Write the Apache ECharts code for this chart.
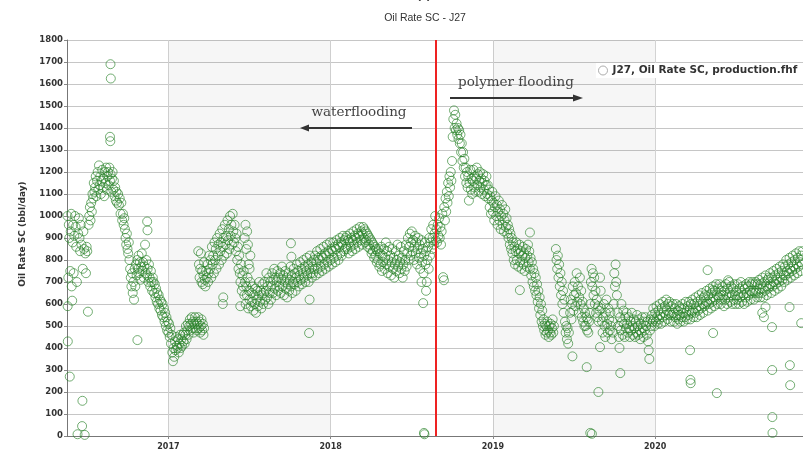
<!DOCTYPE html>
<html>
<head>
<meta charset="utf-8">
<script src="https://cdn.jsdelivr.net/npm/echarts@6/dist/echarts.min.js"></script>
<style>html,body{margin:0;padding:0;background:#fff}#c{width:803px;height:455px}</style>
</head>
<body>
<div id="c"></div>
<script>
// ---- data: [decimal year, oil rate bbl/day] ----
const seriesName = 'J27, Oil Rate SC, production.fhf';
const yearTicks = [2017, 2018, 2019, 2020];
const shadedYears = [[2017, 2018], [2019, 2020]];
const floodSwitchYear = 2018.652;

const pts2016 = [
[2016.378,1000],[2016.379,590],[2016.380,430],[2016.383,720],[2016.386,960],[2016.389,900],[2016.392,270],[2016.395,750],[2016.398,930],[2016.401,1010],[2016.404,680],[2016.407,615],[2016.410,880],[2016.413,960],[2016.416,740],[2016.420,910],[2016.424,1000],[2016.428,950],[2016.432,860],[2016.436,700],[2016.440,8],[2016.444,920],[2016.448,990],[2016.452,900],[2016.456,840],[2016.460,960],[2016.464,870],[2016.468,45],[2016.470,160],[2016.472,760],[2016.476,930],[2016.480,850],[2016.484,5],[2016.488,830],[2016.492,740],[2016.496,860],[2016.500,840],[2016.504,565],[2016.508,960],[2016.512,1000],[2016.516,1040],[2016.520,980],[2016.524,1060],[2016.528,1020],[2016.532,1100],[2016.536,1080],[2016.540,1150],[2016.544,1110],
[2016.548,1130],[2016.552,1180],[2016.556,1090],[2016.560,1160],[2016.564,1200],[2016.568,1120],[2016.572,1230],[2016.576,1140],[2016.580,1180],[2016.584,1100],[2016.588,1160],[2016.592,1210],[2016.596,1130],[2016.600,1170],[2016.604,1090],[2016.608,1200],[2016.612,1150],[2016.616,1220],[2016.620,1120],[2016.624,1180],[2016.628,1200],[2016.632,1140],[2016.636,1220],[2016.640,1160],[2016.644,1190],[2016.648,1110],[2016.652,1170],[2016.656,1200],[2016.660,1120],[2016.664,1160],[2016.668,1090],[2016.672,1130],[2016.676,1070],[2016.680,1110],[2016.684,1060],
[2016.643,1690],[2016.645,1625],[2016.640,1360],[2016.642,1340],
[2016.690,1100],[2016.695,1050],[2016.700,1080],[2016.705,1010],[2016.710,1060],[2016.715,980],
[2016.720,1010],[2016.724,960],[2016.728,990],[2016.732,940],[2016.736,900],[2016.740,870],[2016.744,920],[2016.748,850],[2016.752,830],[2016.756,880],[2016.760,800],[2016.764,760],[2016.768,720],[2016.772,680],[2016.776,740],[2016.780,650],[2016.784,700],[2016.788,620],[2016.792,760],[2016.796,680],[2016.809,436],[2016.869,975],[2016.871,935],
[2016.800,780],[2016.804,730],[2016.808,800],[2016.812,760],[2016.816,820],[2016.820,740],[2016.824,790],[2016.828,710],[2016.832,770],[2016.836,830],[2016.840,750],[2016.844,790],[2016.848,720],[2016.852,770],[2016.856,870],[2016.860,740],[2016.864,800],[2016.868,730],[2016.872,760],[2016.876,700],[2016.880,780],[2016.884,720],[2016.888,680],[2016.892,750],[2016.896,700],[2016.900,660],[2016.904,720],
[2016.908,700],[2016.912,650],[2016.916,690],[2016.920,630],[2016.924,670],[2016.928,610],[2016.932,650],[2016.936,600],[2016.940,640],[2016.944,580],[2016.948,620],[2016.952,570],[2016.956,610],[2016.960,550],[2016.964,600],[2016.968,540],[2016.972,580],[2016.976,520],[2016.980,560],[2016.984,500],[2016.988,540],[2016.992,480],[2016.996,520]
];

const pts2017 = [
[2017.000,470],[2017.004,510],[2017.008,450],[2017.012,490],[2017.016,420],[2017.020,460],[2017.024,380],[2017.028,340],[2017.032,400],[2017.036,360],[2017.040,430],[2017.044,390],[2017.048,450],[2017.052,410],
[2017.056,400],[2017.060,440],[2017.064,380],[2017.068,420],[2017.072,460],[2017.076,400],[2017.080,440],[2017.084,410],[2017.088,460],[2017.092,430],[2017.096,470],[2017.100,420],[2017.104,460],[2017.108,500],[2017.112,440],[2017.116,480],[2017.120,510],[2017.124,460],[2017.128,500],[2017.132,530],[2017.136,480],[2017.140,510],[2017.144,540],[2017.148,490],[2017.152,520],[2017.156,470],[2017.160,510],[2017.164,540],[2017.168,490],[2017.172,520],[2017.176,480],[2017.180,510],[2017.184,540],[2017.188,490],[2017.192,520],[2017.196,470],[2017.200,500],[2017.204,530],[2017.208,480],[2017.212,510],[2017.216,460],[2017.220,490],
[2017.184,840],[2017.188,780],[2017.192,720],[2017.196,760],[2017.200,830],[2017.204,700],[2017.208,750],[2017.212,690],[2017.216,730],[2017.220,790],[2017.224,710],[2017.228,680],[2017.232,750],[2017.236,720],[2017.240,780],[2017.244,700],[2017.248,740],[2017.252,820],[2017.256,760],[2017.260,800],[2017.264,720],[2017.268,860],[2017.272,780],[2017.276,820],[2017.280,740],[2017.284,880],[2017.288,800],[2017.292,850],[2017.296,760],[2017.300,900],[2017.304,820],[2017.308,870],[2017.312,780],[2017.316,920],[2017.320,840],[2017.324,880],[2017.328,800],[2017.332,940],[2017.336,860],[2017.340,900],[2017.344,820],[2017.348,960],[2017.352,870],[2017.356,910],[2017.360,830],[2017.364,980],[2017.368,890],[2017.372,940],[2017.376,850],[2017.380,1000],[2017.384,910],[2017.388,960],[2017.392,870],[2017.396,1010],[2017.400,930],[2017.404,880],[2017.408,960],[2017.412,900],[2017.416,840],[2017.420,920],[2017.424,800],[2017.428,860],[2017.432,760],[2017.436,820],[2017.440,740],
[2017.335,600],[2017.338,630],[2017.443,590],
[2017.470,900],[2017.475,960],[2017.480,850],[2017.485,930],[2017.490,870],[2017.495,780],[2017.500,760],[2017.505,820],
[2017.444,700],[2017.448,780],[2017.452,660],[2017.456,730],[2017.460,680],[2017.464,750],[2017.468,640],[2017.472,700],[2017.476,600],[2017.480,680],[2017.484,640],[2017.488,720],[2017.492,580],[2017.496,660],[2017.500,620],[2017.504,700],[2017.508,590],[2017.512,650],[2017.516,610],[2017.520,680],[2017.524,570],[2017.528,640],[2017.532,600],[2017.536,670],[2017.540,560],[2017.544,620],[2017.548,660],[2017.552,590],[2017.556,640],[2017.560,700],[2017.564,610],[2017.568,660],[2017.572,580],[2017.576,640],[2017.580,690],[2017.584,600],[2017.588,650],[2017.592,700],[2017.596,620],[2017.600,660],[2017.604,740],[2017.608,630],[2017.612,680],[2017.616,600],[2017.620,720],[2017.624,650],[2017.628,700],[2017.632,620],
[2017.636,680],[2017.640,740],[2017.644,650],[2017.648,710],[2017.652,760],[2017.656,670],[2017.660,720],[2017.664,640],[2017.668,700],[2017.672,750],[2017.676,660],[2017.680,720],[2017.684,680],[2017.688,740],[2017.692,650],[2017.696,710],[2017.700,770],[2017.704,680],[2017.708,730],[2017.712,640],[2017.716,700],[2017.720,750],[2017.724,670],[2017.728,720],[2017.732,630],[2017.736,690],[2017.740,740],[2017.744,660],[2017.748,710],[2017.752,770],[2017.756,680],[2017.760,730],[2017.764,650],[2017.768,700],[2017.772,760],[2017.776,690],[2017.780,740],[2017.784,660],[2017.788,720],[2017.792,780],[2017.796,700],[2017.800,750],[2017.804,680],[2017.808,730],[2017.812,790],[2017.816,710],[2017.820,760],[2017.824,690],[2017.828,740],[2017.832,800],[2017.836,720],[2017.840,770],[2017.844,700],[2017.848,750],[2017.852,810],[2017.856,730],[2017.860,780],[2017.864,700],[2017.868,760],[2017.872,820],[2017.876,740],[2017.880,790],[2017.884,720],[2017.888,770],
[2017.755,876],[2017.758,815],[2017.867,468],[2017.870,620],
[2017.892,740],[2017.896,800],[2017.900,760],[2017.904,820],[2017.908,730],[2017.912,790],[2017.916,840],[2017.920,760],[2017.924,810],[2017.928,740],[2017.932,800],[2017.936,850],[2017.940,770],[2017.944,820],[2017.948,750],[2017.952,810],[2017.956,860],[2017.960,780],[2017.964,830],[2017.968,760],[2017.972,820],[2017.976,870],[2017.980,790],[2017.984,840],[2017.988,770],[2017.992,830],[2017.996,880]
];

const pts2018 = [
[2018.000,800],[2018.004,850],[2018.008,780],[2018.012,840],[2018.016,880],[2018.020,810],[2018.024,860],[2018.028,790],[2018.032,850],[2018.036,890],[2018.040,820],[2018.044,870],[2018.048,800],[2018.052,860],[2018.056,900],[2018.060,830],[2018.064,880],[2018.068,820],[2018.072,870],[2018.076,910],[2018.080,840],
[2018.084,890],[2018.088,850],[2018.092,900],[2018.096,860],[2018.100,910],[2018.104,850],[2018.108,890],[2018.112,830],[2018.116,880],[2018.120,920],[2018.124,860],[2018.128,900],[2018.132,840],[2018.136,890],[2018.140,930],[2018.144,870],[2018.148,910],[2018.152,850],[2018.156,900],[2018.160,940],[2018.164,880],[2018.168,920],[2018.172,860],[2018.176,910],[2018.180,950],[2018.184,890],[2018.188,930],[2018.192,870],[2018.196,920],[2018.200,950],[2018.204,900],[2018.208,940],[2018.212,880],[2018.216,930],[2018.220,890],[2018.224,920],[2018.228,860],[2018.232,910],[2018.236,870],[2018.240,900],[2018.244,850],[2018.248,890],[2018.252,830],[2018.256,880],[2018.260,840],[2018.264,870],[2018.268,810],[2018.272,860],[2018.276,820],[2018.280,850],[2018.284,790],[2018.288,840],
[2018.292,800],[2018.296,850],[2018.300,770],[2018.304,830],[2018.308,780],[2018.312,860],[2018.316,750],[2018.320,820],[2018.324,790],[2018.328,850],[2018.332,760],[2018.336,810],[2018.340,880],[2018.344,780],[2018.348,840],[2018.352,740],[2018.356,800],[2018.360,860],[2018.364,770],[2018.368,820],[2018.372,730],[2018.376,790],[2018.380,850],[2018.384,760],[2018.388,810],[2018.392,720],[2018.396,780],[2018.400,840],[2018.404,750],[2018.408,800],[2018.412,870],[2018.416,770],[2018.420,820],[2018.424,740],[2018.428,790],[2018.432,860],[2018.436,760],[2018.440,810],[2018.444,720],[2018.448,780],[2018.452,840],[2018.456,750],
[2018.460,800],[2018.464,870],[2018.468,770],[2018.472,830],[2018.476,900],[2018.480,800],[2018.484,860],[2018.488,920],[2018.492,820],[2018.496,880],[2018.500,930],[2018.504,840],[2018.508,890],[2018.512,800],[2018.516,860],[2018.520,910],[2018.524,830],[2018.528,880],[2018.532,780],[2018.536,850],[2018.540,900],[2018.544,810],[2018.548,870],[2018.552,760],[2018.556,830],[2018.560,890],[2018.564,790],[2018.568,850],[2018.572,740],[2018.576,820],[2018.580,880],[2018.584,780],[2018.588,840],[2018.592,700],[2018.596,800],[2018.600,860],[2018.604,760],[2018.608,900],[2018.612,820],[2018.616,880],[2018.620,940],[2018.624,850],[2018.628,900],[2018.632,960],[2018.636,870],[2018.640,920],[2018.644,1000],[2018.648,890],
[2018.570,604],[2018.575,14],[2018.578,8],[2018.560,700],[2018.588,660],
[2018.652,940],[2018.656,880],[2018.660,960],[2018.664,910],[2018.668,990],[2018.672,900],[2018.676,950],[2018.680,870],[2018.684,930],[2018.688,1010],
[2018.693,722],[2018.698,708],
[2018.700,1040],[2018.704,980],[2018.708,1080],[2018.712,1020],[2018.716,1110],[2018.720,1060],[2018.724,1150],[2018.728,1090],[2018.732,1180],[2018.736,1130],[2018.740,1200],[2018.744,1160],[2018.748,1250],
[2018.752,1360],[2018.756,1440],[2018.760,1480],[2018.764,1400],[2018.768,1460],[2018.772,1390],[2018.776,1420],[2018.780,1370],[2018.784,1400],[2018.788,1350],[2018.792,1390],[2018.796,1330],[2018.800,1370],[2018.804,1290],[2018.808,1330],[2018.812,1250],[2018.816,1290],[2018.820,1220],[2018.824,1260],
[2018.828,1180],[2018.832,1220],[2018.836,1150],[2018.840,1200],[2018.844,1130],[2018.848,1180],[2018.852,1070],[2018.856,1150],[2018.860,1210],[2018.864,1120],[2018.868,1170],[2018.872,1100],[2018.876,1160],[2018.880,1210],[2018.884,1130],[2018.888,1180],[2018.892,1110],[2018.896,1170],[2018.900,1220],[2018.904,1140],[2018.908,1190],[2018.912,1110],[2018.916,1160],[2018.920,1200],[2018.924,1130],[2018.928,1170],[2018.932,1100],[2018.936,1150],[2018.940,1190],[2018.944,1120],[2018.948,1160],[2018.952,1090],[2018.956,1140],[2018.960,1180],[2018.964,1100],[2018.968,1140],
[2018.972,1080],[2018.976,1120],[2018.980,1040],[2018.984,1090],[2018.988,1010],[2018.992,1070],[2018.996,1110]
];

const pts2019 = [
[2019.000,1020],[2019.004,1060],[2019.008,980],[2019.012,1040],[2019.016,1090],[2019.020,1000],[2019.024,1050],[2019.028,960],[2019.032,1020],[2019.036,1070],[2019.040,980],[2019.044,1030],[2019.048,940],[2019.052,1000],[2019.056,1050],[2019.060,960],[2019.064,1010],[2019.068,930],[2019.072,980],[2019.076,1030],[2019.080,950],[2019.084,990],[2019.088,920],
[2019.092,960],[2019.096,900],[2019.100,940],[2019.104,870],[2019.108,920],[2019.112,850],[2019.116,900],[2019.120,830],[2019.124,880],[2019.128,800],[2019.132,860],[2019.136,780],[2019.140,840],[2019.144,880],[2019.148,800],[2019.152,850],[2019.156,770],[2019.160,830],[2019.164,870],[2019.168,790],[2019.172,840],[2019.176,760],[2019.180,820],[2019.184,860],[2019.188,780],[2019.192,830],[2019.196,750],[2019.200,810],[2019.204,850],[2019.208,770],
[2019.166,663],[2019.228,925],
[2019.212,820],[2019.216,870],[2019.220,790],[2019.224,840],[2019.228,760],[2019.232,810],[2019.236,730],[2019.240,790],[2019.244,700],[2019.248,760],[2019.252,680],[2019.256,740],[2019.260,660],[2019.264,720],[2019.268,640],[2019.272,690],[2019.276,610],[2019.280,660],[2019.284,580],[2019.288,630],[2019.292,550],[2019.296,600],[2019.300,520],[2019.304,570],[2019.308,500],
[2019.312,530],[2019.316,480],[2019.320,510],[2019.324,460],[2019.328,500],[2019.332,470],[2019.336,520],[2019.340,480],[2019.344,450],[2019.348,500],[2019.352,470],[2019.356,510],[2019.360,460],[2019.364,490],[2019.368,530],[2019.372,470],[2019.376,500],
[2019.388,850],[2019.392,800],[2019.396,760],[2019.400,820],[2019.404,720],[2019.408,780],[2019.412,680],[2019.416,740],[2019.420,640],[2019.424,700],[2019.428,600],[2019.432,660],[2019.436,560],[2019.440,620],
[2019.444,520],[2019.448,470],[2019.452,500],[2019.456,440],[2019.460,490],[2019.464,420],[2019.468,470],
[2019.490,362],[2019.578,313],
[2019.476,560],[2019.480,620],[2019.484,530],[2019.488,600],[2019.492,680],[2019.496,570],[2019.500,640],[2019.504,700],[2019.508,590],[2019.512,650],[2019.516,740],[2019.520,610],[2019.524,680],[2019.528,560],[2019.532,630],[2019.536,720],[2019.540,600],[2019.544,660],[2019.548,540],[2019.552,610],[2019.556,520],[2019.560,580],[2019.564,500],
[2019.568,560],[2019.572,500],[2019.576,540],[2019.580,480],[2019.584,530],[2019.588,470],[2019.592,520],[2019.596,560],
[2019.600,600],[2019.604,700],[2019.608,760],[2019.612,680],[2019.616,740],[2019.620,640],[2019.624,720],[2019.628,600],[2019.632,660],[2019.636,560],[2019.640,620],[2019.644,540],[2019.648,590],[2019.652,520],[2019.656,570],
[2019.660,404],[2019.650,200],[2019.600,14],[2019.610,10],
[2019.660,720],[2019.664,660],[2019.668,580],[2019.672,520],[2019.676,470],[2019.680,540],[2019.684,600],[2019.688,500],[2019.692,450],[2019.696,560],[2019.700,620],[2019.704,510],[2019.708,470],[2019.712,580],[2019.716,530],[2019.720,480],[2019.724,560],[2019.728,500],[2019.732,440],[2019.736,520],[2019.740,470],[2019.744,600],[2019.748,740],[2019.752,680],[2019.756,780],[2019.760,700],[2019.764,640],[2019.768,560],[2019.772,500],[2019.776,450],[2019.780,400],[2019.784,540],[2019.788,480],[2019.792,600],[2019.796,520],[2019.800,460],[2019.804,570],[2019.808,510],[2019.812,450],[2019.816,540],[2019.820,490],
[2019.785,286],
[2019.824,560],[2019.828,510],[2019.832,470],[2019.836,540],[2019.840,490],[2019.844,450],[2019.848,520],[2019.852,480],[2019.856,560],[2019.860,500],[2019.864,460],[2019.868,530],[2019.872,490],[2019.876,450],[2019.880,520],[2019.884,470],[2019.888,550],[2019.892,500],[2019.896,460],[2019.900,530],[2019.904,480],[2019.908,440],[2019.912,510],[2019.916,470],[2019.920,540],[2019.924,490],[2019.928,450],[2019.932,520],[2019.936,480],[2019.940,540],[2019.944,500],[2019.948,460],[2019.952,520],[2019.956,430],[2019.960,390],[2019.964,350],[2019.968,480],[2019.972,530],
[2019.976,500],[2019.980,550],[2019.984,520],[2019.988,580],[2019.992,530],[2019.996,500]
];

const pts2020 = [
[2020.000,560],[2020.004,520],[2020.008,590],[2020.012,540],[2020.016,510],[2020.020,570],[2020.024,530],[2020.028,600],[2020.032,550],[2020.036,510],[2020.040,580],[2020.044,540],[2020.048,610],[2020.052,560],[2020.056,520],[2020.060,590],[2020.064,550],[2020.068,620],[2020.072,570],[2020.076,530],[2020.080,600],[2020.084,550],[2020.088,610],[2020.092,560],[2020.096,520],[2020.100,590],[2020.104,550],[2020.108,600],[2020.112,560],[2020.116,520],[2020.120,580],[2020.124,540],[2020.128,600],[2020.132,550],[2020.136,510],[2020.140,570],[2020.144,530],[2020.148,590],
[2020.152,550],[2020.156,520],[2020.160,580],[2020.164,540],[2020.168,600],[2020.172,560],[2020.176,520],[2020.180,580],[2020.184,540],[2020.188,610],[2020.192,560],[2020.196,530],[2020.200,590],[2020.204,550],[2020.208,610],[2020.212,570],[2020.216,530],[2020.220,600],[2020.224,560],[2020.228,620],[2020.232,570],[2020.236,540],[2020.240,600],[2020.244,560],[2020.248,630],[2020.252,580],[2020.256,540],[2020.260,610],[2020.264,570],[2020.268,640],[2020.272,590],[2020.276,550],[2020.280,620],[2020.284,580],[2020.288,650],[2020.292,600],[2020.296,560],[2020.300,630],
[2020.215,390],[2020.217,255],[2020.219,240],[2020.323,754],[2020.355,663],[2020.357,468],[2020.380,195],
[2020.304,590],[2020.308,640],[2020.312,600],[2020.316,660],[2020.320,610],[2020.324,570],[2020.328,640],[2020.332,600],[2020.336,670],[2020.340,620],[2020.344,580],[2020.348,650],[2020.352,610],[2020.356,680],[2020.360,630],[2020.364,590],[2020.368,660],[2020.372,620],[2020.376,690],[2020.380,640],[2020.384,600],[2020.388,670],[2020.392,630],[2020.396,690],[2020.400,640],[2020.404,600],[2020.408,660],[2020.412,620],[2020.416,680],[2020.420,640],[2020.424,590],[2020.428,660],[2020.432,620],[2020.436,690],[2020.440,640],[2020.444,600],[2020.448,670],[2020.452,630],[2020.456,700],[2020.460,650],[2020.464,610],[2020.468,680],[2020.472,640],[2020.476,600],[2020.480,670],[2020.484,620],[2020.488,690],[2020.492,640],[2020.496,600],
[2020.450,708],
[2020.500,660],[2020.504,620],[2020.508,690],[2020.512,640],[2020.516,600],[2020.520,670],[2020.524,630],[2020.528,700],[2020.532,650],[2020.536,610],[2020.540,680],[2020.544,640],[2020.548,600],[2020.552,670],[2020.556,630],[2020.560,690],[2020.564,650],[2020.568,610],[2020.572,680],[2020.576,640],[2020.580,700],[2020.584,660],[2020.588,620],[2020.592,690],[2020.596,650],[2020.600,700],[2020.604,660],[2020.608,620],[2020.612,690],[2020.616,650],[2020.620,700],[2020.624,660],[2020.628,630],[2020.632,690],[2020.636,650],[2020.640,710],[2020.644,670],[2020.648,630],[2020.652,690],[2020.656,650],[2020.660,720],[2020.664,670],[2020.668,630],[2020.672,700],[2020.676,660],[2020.680,730],[2020.684,680],[2020.688,640],[2020.692,710],[2020.696,670],
[2020.660,560],[2020.670,540],[2020.680,586],[2020.720,495],[2020.721,300],[2020.722,86],[2020.723,14],[2020.830,322],[2020.832,231],[2020.828,586],[2020.900,513],
[2020.700,720],[2020.704,680],[2020.708,740],[2020.712,690],[2020.716,650],[2020.720,720],[2020.724,680],[2020.728,750],[2020.732,700],[2020.736,660],[2020.740,730],[2020.744,690],[2020.748,760],[2020.752,710],[2020.756,670],[2020.760,740],[2020.764,700],[2020.768,770],[2020.772,720],[2020.776,680],[2020.780,750],[2020.784,710],[2020.788,780],[2020.792,730],[2020.796,700],[2020.800,770],[2020.804,730],[2020.808,800],[2020.812,750],[2020.816,710],[2020.820,780],[2020.824,740],[2020.828,810],[2020.832,760],[2020.836,720],[2020.840,790],[2020.844,750],[2020.848,820],[2020.852,770],[2020.856,730],[2020.860,800],[2020.864,760],[2020.868,830],[2020.872,780],[2020.876,740],[2020.880,810],[2020.884,770],[2020.888,840],[2020.892,790],[2020.896,750],[2020.900,820],[2020.904,780],[2020.908,840]
];

const allPts = [].concat(pts2016, pts2017, pts2018, pts2019, pts2020);

const chart = echarts.init(document.getElementById('c'), null, {renderer: 'canvas'});
const axisFont = 'DejaVu Sans';
const option = {
  animation: false,
  backgroundColor: '#ffffff',
  grid: {left: 67, right: 0, top: 40, bottom: 19},
  xAxis: {
    type: 'value', min: 2016.375, max: 2020.911,
    axisLine: {show: true, lineStyle: {color: '#777', width: 1}},
    axisTick: {show: true, customValues: yearTicks, length: 3, lineStyle: {color: '#888'}},
    axisLabel: {customValues: yearTicks, formatter: v => String(v), fontSize: 8, fontWeight: 'bold', color: '#333', margin: 7, fontFamily: axisFont},
    splitLine: {show: true, lineStyle: {color: '#d4d4d4', width: 1}}
  },
  yAxis: {
    type: 'value', min: 0, max: 1800, interval: 100,
    axisLine: {show: true, lineStyle: {color: '#777', width: 1}},
    axisTick: {show: true, length: 3, lineStyle: {color: '#888'}},
    axisLabel: {formatter: v => String(v), fontSize: 8.5, fontWeight: 'bold', color: '#333', margin: 4, fontFamily: axisFont},
    splitLine: {show: true, lineStyle: {color: '#c6c6c6', width: 1}}
  },
  legend: {
    show: true, left: 596, top: 63, padding: [2, 2, 2, 2],
    backgroundColor: '#ffffff',
    icon: 'circle', itemWidth: 9, itemHeight: 9, itemGap: 4,
    itemStyle: {color: '#ffffff', borderColor: '#999', borderWidth: 1},
    textStyle: {fontSize: 10.5, fontWeight: 'bold', color: '#333', fontFamily: 'DejaVu Sans'},
    data: [seriesName]
  },
  series: [{
    name: seriesName,
    type: 'scatter',
    data: allPts,
    symbol: 'circle',
    symbolSize: 9,
    clip: true,
    itemStyle: {color: 'rgba(0,0,0,0)', borderColor: 'rgba(38,128,38,0.8)', borderWidth: 1},
    emphasis: {disabled: true},
    markArea: {
      silent: true,
      itemStyle: {color: 'rgba(0,0,0,0.035)'},
      data: shadedYears.map(r => [{xAxis: r[0]}, {xAxis: r[1]}])
    },
    markLine: {
      silent: true, symbol: 'none',
      label: {show: false},
      lineStyle: {color: '#ee2222', width: 2, type: 'solid'},
      data: [{xAxis: floodSwitchYear}]
    }
  }],
  graphic: [
    {type: 'text', x: 424, y: -4, style: {text: '(a)', fontSize: 11, fontWeight: 'bold', fill: '#333', textAlign: 'center', textVerticalAlign: 'middle', fontFamily: 'Liberation Sans'}},
    {type: 'text', x: 425, y: 18, style: {text: 'Oil Rate SC - J27', fontSize: 10.5, fill: '#333', textAlign: 'center', textVerticalAlign: 'middle', fontFamily: 'Liberation Sans'}},
    {type: 'text', x: 23, y: 234, rotation: Math.PI / 2, style: {text: 'Oil Rate SC (bbl/day)', fontSize: 9, fontWeight: 'bold', fill: '#333', textAlign: 'center', textVerticalAlign: 'middle', fontFamily: axisFont}},
    {type: 'text', x: 359, y: 112, z: 10, style: {text: 'waterflooding', fontSize: 13.5, fill: '#444', textAlign: 'center', textVerticalAlign: 'middle', fontFamily: 'DejaVu Serif'}},
    {type: 'line', z: 10, shape: {x1: 306, y1: 128, x2: 412, y2: 128}, style: {stroke: '#333', lineWidth: 2}},
    {type: 'polygon', z: 10, shape: {points: [[300, 128], [309, 124.5], [309, 131.5]]}, style: {fill: '#333'}},
    {type: 'text', x: 516, y: 82, z: 10, style: {text: 'polymer flooding', fontSize: 13.5, fill: '#444', textAlign: 'center', textVerticalAlign: 'middle', fontFamily: 'DejaVu Serif'}},
    {type: 'line', z: 10, shape: {x1: 450, y1: 98, x2: 576, y2: 98}, style: {stroke: '#333', lineWidth: 2}},
    {type: 'polygon', z: 10, shape: {points: [[583, 98], [573, 94.5], [573, 101.5]]}, style: {fill: '#333'}}
  ]
};
chart.setOption(option);
</script>
</body>
</html>
